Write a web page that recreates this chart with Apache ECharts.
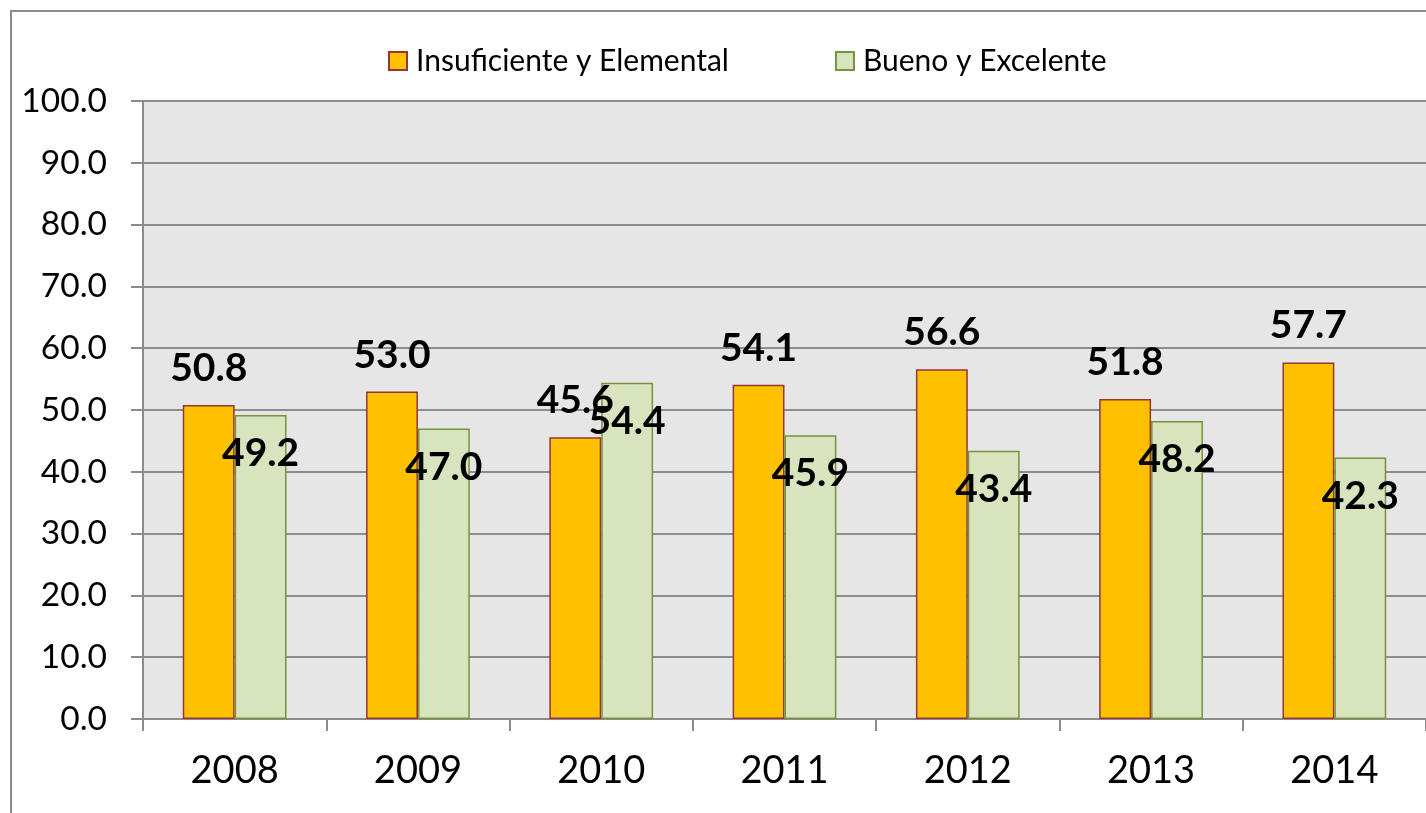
<!DOCTYPE html>
<html>
<head>
<meta charset="utf-8">
<script src="https://cdn.jsdelivr.net/npm/echarts@6/dist/echarts.min.js"></script>
<style>
html,body{margin:0;padding:0;background:#fff;}
#chart{width:1426px;height:813px;}
</style>
</head>
<body>
<div id="chart"></div>
<script>
var years = ['2008','2009','2010','2011','2012','2013','2014'];
var seriesNames = ['Insuficiente y Elemental','Bueno y Excelente'];
var insuficiente = [50.8, 53.0, 45.6, 54.1, 56.6, 51.8, 57.7];
var bueno = [49.2, 47.0, 54.4, 45.9, 43.4, 48.2, 42.3];

var FONT = 'Lato';
var chart = echarts.init(document.getElementById('chart'));
var gridCol = '#8c8c8c';
chart.setOption({
  animation: false,
  backgroundColor: '#ffffff',
  graphic: [{
    type: 'rect',
    shape: {x: 11, y: 11, width: 1600, height: 1000},
    style: {fill: 'none', stroke: '#8c8c8c', lineWidth: 2},
    silent: true
  }],
  legend: {
    left: 383, top: 41,
    icon: 'rect',
    itemWidth: 18, itemHeight: 18, itemGap: 106,
    textStyle: {fontFamily: FONT, fontSize: 30, color: '#000', padding: [0,0,0,4]},
    data: seriesNames
  },
  grid: {
    left: 143, top: 101, width: 1288, height: 618,
    show: true, backgroundColor: '#e6e6e6', borderWidth: 0
  },
  xAxis: {
    type: 'category', data: years,
    axisLine: {show: true, lineStyle: {color: gridCol, width: 2}},
    axisTick: {show: true, length: 12, lineStyle: {color: gridCol, width: 2}},
    axisLabel: {fontFamily: FONT, fontSize: 38, color: '#000', margin: 33}
  },
  yAxis: {
    type: 'value', min: 0, max: 100, interval: 10,
    axisLine: {show: true, lineStyle: {color: gridCol, width: 2}},
    axisTick: {show: true, length: 12, lineStyle: {color: gridCol, width: 2}},
    splitLine: {show: true, lineStyle: {color: gridCol, width: 2}},
    axisLabel: {fontFamily: FONT, fontSize: 33.5, color: '#000', margin: 36,
      formatter: function(v){ return v.toFixed(1); }}
  },
  series: [{
    name: seriesNames[0], type: 'bar', data: insuficiente,
    barWidth: '28.3%', barGap: '0%',
    itemStyle: {color: '#ffc000', borderColor: '#963634', borderWidth: 1.5},
    label: {show: true, position: 'top', distance: 17, fontFamily: FONT, fontWeight: 'bold',
      fontSize: 39, color: '#000', formatter: function(p){ return p.value.toFixed(1); }}
  },{
    name: seriesNames[1], type: 'bar', data: bueno,
    barWidth: '28.3%', barGap: '0%',
    itemStyle: {color: '#d7e4bd', borderColor: '#77933c', borderWidth: 1.5},
    label: {show: true, position: 'insideTop', distance: 19, fontFamily: FONT, fontWeight: 'bold',
      fontSize: 39, color: '#000', formatter: function(p){ return p.value.toFixed(1); }}
  }]
});
</script>
</body>
</html>
